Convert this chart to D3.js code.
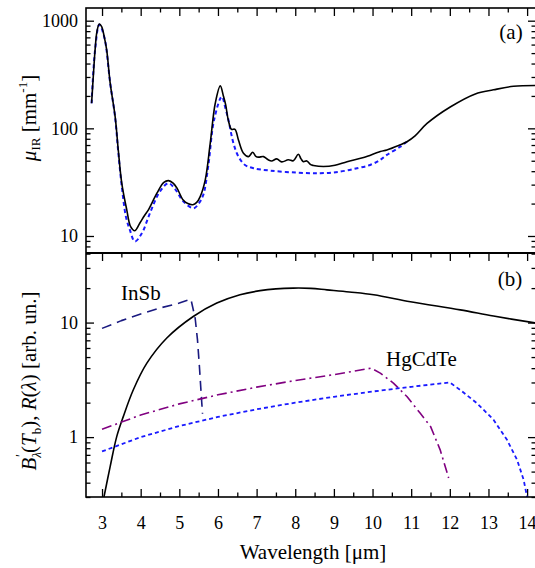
<!DOCTYPE html>
<html><head><meta charset="utf-8">
<script src="https://cdn.jsdelivr.net/npm/d3@7"></script>
</head>
<body style="margin:0;background:#fff"><svg id="c" width="535" height="568" style="font-family:'Liberation Serif'"></svg>
<script>
// ---- data ----
const xTicks = [3,4,5,6,7,8,9,10,11,12,13,14];
const yTicksA = [10,100,1000];
const yTicksB = [1,10];

// panel (a): measured absorption (solid black)
const muMeasW = [2.73,2.78,2.82,2.87,2.93,2.99,3.06,3.12,3.21,3.34,3.42,3.51,3.64,3.74,3.85,3.98,4.1,4.2,4.42,4.6,4.72,4.84,4.94,5.1,5.22,5.35,5.45,5.54,5.67,5.8,5.93,6.06,6.14,6.2,6.27,6.35,6.44,6.53,6.66,6.79,6.9,6.98,7.05,7.18,7.3,7.39,7.52,7.65,7.82,7.95,8.08,8.15,8.21,8.3,8.4,8.47,8.73,9.03,9.34,9.77,10.2,10.37,10.7,10.89,11.1,11.41,12.01,12.66,13.13,13.65,14.23];
const muMeasV = [171,330,535,800,930,880,700,535,265,128,63,31,17.5,12.2,11.2,13.2,15.5,17.5,25,31.5,32.7,31,27.8,21.6,20,19.5,20.5,23.2,33,72.8,171,248,200,165,118,98,98,78,58.7,54.6,60,55,54,54.6,51,49.8,52,48.8,51,50,57.5,52,49,49.8,46,45.2,44.2,45.4,49,53.5,61,63,70,75,85,111,158,209,228,246,250];

// panel (a): calculated absorption (blue dashed)
const muCalcW = [2.73,2.82,2.93,3.06,3.21,3.34,3.42,3.51,3.62,3.72,3.85,4.03,4.24,4.5,4.72,4.9,5.1,5.37,5.5,5.62,5.75,5.9,6.1,6.2,6.27,6.4,6.53,6.7,6.92,7.35,8.04,8.65,9.16,9.6,9.94,10.2,10.37,10.72,10.89];
const muCalcV = [171,535,920,700,265,125,60,29,15,11.4,8.9,10.6,16.3,26,30.9,27,21,18.1,20,24.1,45,120,197,150,120,72.8,54.6,45.7,42.6,40.5,38.8,38.3,39.6,42.6,45.7,51,56.6,67.6,75];

// panel (b): blackbody spectral density (solid black)
const bbW = [3.05,3.21,3.38,3.55,3.81,4.16,4.67,5.36,5.97,6.57,7.09,7.5,7.95,8.4,8.82,9.4,10.03,10.98,12.27,13.13,14.23];
const bbV = [0.3,0.553,1.01,1.51,2.59,4.42,7.3,11.3,14.8,17.5,19.0,19.7,20,19.9,19.3,18.5,17.5,15.2,12.9,11.4,9.9];

// InSb responsivity (navy dashed)
const insbW = [3.0,3.5,4.0,4.5,5.0,5.3,5.41,5.47,5.52,5.57,5.6];
const insbV = [8.9,10.4,11.9,13.4,14.8,16.0,10.9,7.06,4.13,2.26,1.6];

// HgCdTe responsivity (purple dash-dot)
const hgW = [3.0,4.0,5.0,6.0,7.0,8.0,9.0,9.97,10.2,10.54,10.89,11.23,11.5,11.75,11.97];
const hgV = [1.17,1.56,1.95,2.34,2.73,3.12,3.51,4.0,3.62,2.96,2.26,1.62,1.24,0.774,0.44];

// third detector responsivity (blue dotted)
const qwW = [3.0,4.0,5.0,6.0,7.0,8.0,9.0,10.0,11.0,12.0,12.27,12.7,13.13,13.48,13.74,13.91,14.0];
const qwV = [0.75,1.0,1.25,1.5,1.75,2.0,2.25,2.5,2.75,3.0,2.58,1.98,1.42,0.946,0.634,0.424,0.3];

// ---- layout ----
const FONT = "'Liberation Serif'";
const svg = d3.select("#c");
const L = 86, R = 536, T1 = 8, B1 = 253, T2 = 253, B2 = 497;
const x = d3.scaleLinear().domain([2.585, 14.23]).range([L, R]);
const yA = d3.scaleLog().domain([6.95, 1312]).range([B1, T1]);
const yB = d3.scaleLog().domain([0.30, 40.5]).range([B2, T2]);

const minorX = d3.range(2.5, 14.51, 0.5).filter(v => v % 1 !== 0 && v > 2.585 && v < 14.23);
function logMinor(dom){
  const out=[]; for(let e=-2;e<4;e++){for(let m=2;m<=9;m++){const v=m*Math.pow(10,e); if(v>dom[0]&&v<dom[1]) out.push(v);}}
  return out;
}
function setFont(sel){ return sel.style("font-family",FONT); }
function styleAxis(g){
  g.attr("font-family", null);
  g.select(".domain").remove();
  g.selectAll(".tick line").attr("stroke","#000").attr("stroke-width",1.3);
}
const font = 18;
function xAxis(y0, dir, labels){
  const gM = svg.append("g").attr("transform",`translate(0,${y0})`)
    .call((dir>0?d3.axisBottom(x):d3.axisTop(x)).tickValues(xTicks).tickSize(-8).tickFormat(labels?d3.format("d"):""));
  styleAxis(gM);
  setFont(gM.selectAll(".tick text")).attr("font-size",font).attr("fill","#000");
  const gm = svg.append("g").attr("transform",`translate(0,${y0})`)
    .call((dir>0?d3.axisBottom(x):d3.axisTop(x)).tickValues(minorX).tickSize(-4.5).tickFormat(""));
  styleAxis(gm);
  return gM;
}
xAxis(T1, -1, false);
xAxis(T2, -1, false);
const xb = xAxis(B2, 1, true);
xb.selectAll(".tick text").attr("dy",null).attr("y",32);

function yAxes(y, majors, x0, side){
  const ax = side==="left"?d3.axisLeft(y):d3.axisRight(y);
  const g = svg.append("g").attr("transform",`translate(${x0},0)`)
    .call(ax.tickValues(majors).tickSize(-8).tickFormat(side==="left"?d3.format("d"):""));
  styleAxis(g);
  setFont(g.selectAll(".tick text")).attr("font-size",font).attr("fill","#000").attr("x",side==="left"?-8:8);
  const g2 = svg.append("g").attr("transform",`translate(${x0},0)`)
    .call((side==="left"?d3.axisLeft(y):d3.axisRight(y)).tickValues(logMinor(y.domain())).tickSize(-4.5).tickFormat(""));
  styleAxis(g2);
}
yAxes(yA, yTicksA, L, "left");
yAxes(yA, yTicksA, R, "right");
yAxes(yB, yTicksB, L, "left");
yAxes(yB, yTicksB, R, "right");

const defs = svg.append("defs");
defs.append("clipPath").attr("id","ca").append("rect").attr("x",L).attr("y",T1).attr("width",R-L).attr("height",B1-T1);
defs.append("clipPath").attr("id","cb").append("rect").attr("x",L).attr("y",T2).attr("width",R-L).attr("height",B2-T2);

function series(W,V,ys,clip,stroke,width,dash,curve){
  const data = W.map((w,i)=>[w,V[i]]);
  const line = d3.line().x(d=>x(d[0])).y(d=>ys(d[1])).curve(curve||d3.curveLinear);
  svg.append("path").datum(data).attr("clip-path",`url(#${clip})`)
    .attr("d",line).attr("fill","none").attr("stroke",stroke).attr("stroke-width",width)
    .attr("stroke-dasharray",dash||null).attr("stroke-linejoin","round");
}
series(muCalcW,muCalcV,yA,"ca","#1a1aff",2,"4,3",d3.curveCatmullRom.alpha(0.5));
series(muMeasW,muMeasV,yA,"ca","#000",1.6,null,d3.curveCatmullRom.alpha(0.5));
series(bbW,bbV,yB,"cb","#000",1.6,null,d3.curveCatmullRom.alpha(0.5));
series(insbW,insbV,yB,"cb","#1a1a80",1.6,"10,6");
series(hgW,hgV,yB,"cb","#800080",1.6,"10,4,2,4");
series(qwW,qwV,yB,"cb","#1a1aff",1.8,"4,3");

svg.append("rect").attr("x",L).attr("y",T1).attr("width",R-L).attr("height",B2-T1).attr("fill","none").attr("stroke","#000").attr("stroke-width",1.6);
svg.append("line").attr("x1",L).attr("x2",R).attr("y1",B1).attr("y2",B1).attr("stroke","#000").attr("stroke-width",2);

function txt(xp,yp,s,size,anchor){
  return setFont(svg.append("text")).attr("x",xp).attr("y",yp).attr("font-size",size).attr("text-anchor",anchor||"start").text(s);
}
txt(511,39,"(a)",21,"middle");
txt(510,286,"(b)",21,"middle");
txt(121,300,"InSb",21);
txt(386,366,"HgCdTe",21);
txt(313,559,"Wavelength [μm]",21,"middle");

// y label (a)
const ta = setFont(svg.append("text")).attr("transform","translate(36,118) rotate(-90)").attr("text-anchor","middle").attr("font-size",21);
ta.append("tspan").attr("font-style","italic").text("μ");
ta.append("tspan").attr("font-size",13).attr("dy",4).text("IR");
ta.append("tspan").attr("dy",-4).text("  [mm");
ta.append("tspan").attr("font-size",13).attr("dy",-9).text("-1");
ta.append("tspan").attr("dy",9).text("]");

// y label (b)
const tb = setFont(svg.append("text")).attr("transform","translate(36,381) rotate(-90)").attr("text-anchor","middle").attr("font-size",21);
tb.append("tspan").attr("font-style","italic").text("B");
tb.append("tspan").attr("font-size",13).attr("dy",5).attr("font-style","italic").text("λ");
tb.append("tspan").attr("font-size",14).attr("dx",-5).attr("dy",-15).text("′");
tb.append("tspan").attr("dx",1).attr("dy",10).text("(");
tb.append("tspan").attr("font-style","italic").text("T");
tb.append("tspan").attr("font-size",13).attr("dy",5).text("b");
tb.append("tspan").attr("dy",-5).text("),  ");
tb.append("tspan").attr("font-style","italic").text("R");
tb.append("tspan").text("(");
tb.append("tspan").attr("font-style","italic").text("λ");
tb.append("tspan").text(")  [arb. un.]");
</script></body></html>
